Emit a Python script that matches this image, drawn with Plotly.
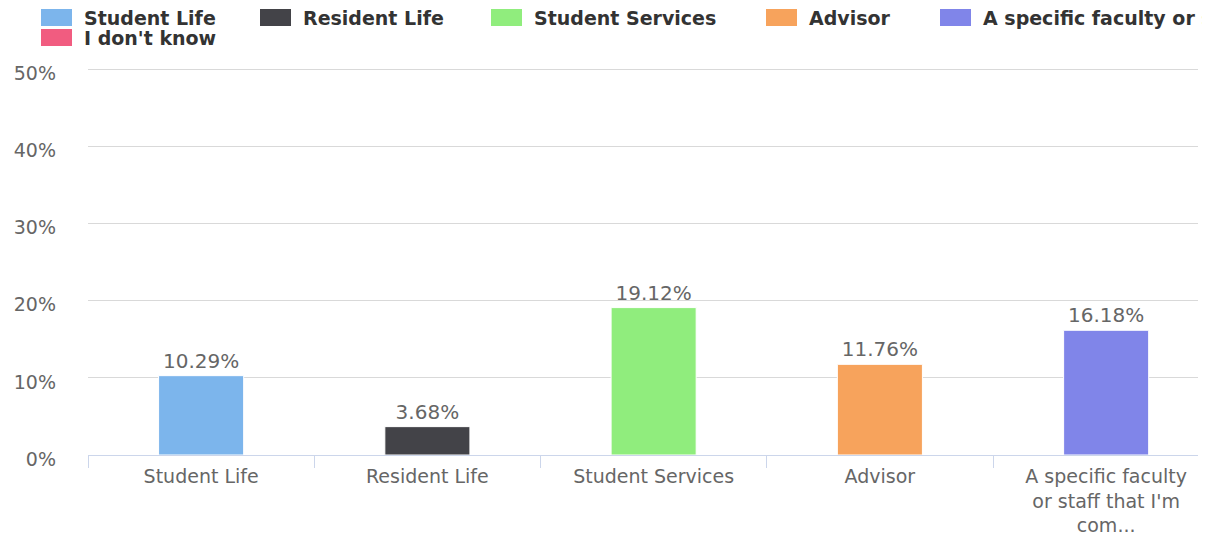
import plotly.graph_objects as go

# categories as they appear on the x axis (the last one lies past the right edge)
categories = [
    "Student Life",
    "Resident Life",
    "Student Services",
    "Advisor",
    "A specific faculty or staff that I'm com...",
    "I don't know",
]
tick_text = [
    "Student Life",
    "Resident Life",
    "Student Services",
    "Advisor",
    "A specific faculty<br>or staff that I'm<br>com...",
    "I don't know",
]
shown = categories[:5]
percent = [10.29, 3.68, 19.12, 11.76, 16.18]
colors = ["#7cb5ec", "#434348", "#90ed7d", "#f7a35c", "#8085e9", "#f15c80"]

# legend layout: left edge of each swatch (px) and its row
legend_left = [41, 260, 491, 766, 940, 41]
legend_row = [0, 0, 0, 0, 0, 1]

W, H = 1210, 534
OFF = 8  # the page body margin shifts the figure by this much
YMAX = 50.2  # a hair above 50 so plotly keeps the top grid line
L, R, B = 88, 1198, 455  # plot area in screen pixels
T = B - (B - 70) * YMAX / 50  # 50% sits at y=70
font = "DejaVu Sans"


def px(x):
    return (x - L) / (R - L)


def py(y):
    return (B - y) / (B - T)


fig = go.Figure()

fig.add_trace(go.Bar(
    x=shown, y=percent,
    marker=dict(color=colors[:5], line=dict(color="white", width=1)),
    text=[f"{v:.2f}%" for v in percent],
    textposition="outside",
    textfont=dict(family=font, size=20, color="#666666"),
    cliponaxis=False,
    showlegend=False,
    hovertemplate="%{x}: %{y:.2f}%<extra></extra>",
))

# legend drawn as swatches + labels so the layout follows the original
for i, name in enumerate(categories):
    x0 = legend_left[i]
    yc = 18 + 20 * legend_row[i]
    fig.add_shape(
        type="rect", xref="paper", yref="paper",
        x0=px(x0), x1=px(x0 + 31), y0=py(yc - 8.5), y1=py(yc + 8.5),
        fillcolor=colors[i], line=dict(width=0), layer="above",
    )
    fig.add_annotation(
        text=name, xref="paper", yref="paper",
        x=px(x0 + 41), y=py(yc + 0.5), xanchor="left", yanchor="middle",
        showarrow=False,
        font=dict(family=font, size=19, weight="bold", color="#333333"),
    )

fig.update_layout(
    width=W, height=H,
    margin=dict(l=L - OFF, r=W - (R - OFF), t=T - OFF, b=H - (B - OFF), autoexpand=False),
    plot_bgcolor="white", paper_bgcolor="white",
    bargap=0.624,
    font=dict(family=font, color="#666666"),
)
fig.update_xaxes(
    type="category",
    categoryorder="array", categoryarray=categories,
    tickvals=categories, ticktext=tick_text,
    range=[-0.5, 4.406],
    tickson="boundaries", ticks="outside", ticklen=12, tickcolor="#ccd6eb",
    ticklabelstandoff=4,
    showline=True, linecolor="#ccd6eb", linewidth=1,
    showgrid=False,
    tickfont=dict(family=font, size=19, color="#666666"),
)
fig.update_yaxes(
    range=[0, YMAX], dtick=10, ticksuffix="%",
    showgrid=True, gridcolor="#d9d9d9", gridwidth=1,
    zeroline=False, showline=False,
    ticklabelstandoff=31, ticklabelshift=4,
    tickfont=dict(family=font, size=19, color="#666666"),
)

fig.write_html("out.html")
